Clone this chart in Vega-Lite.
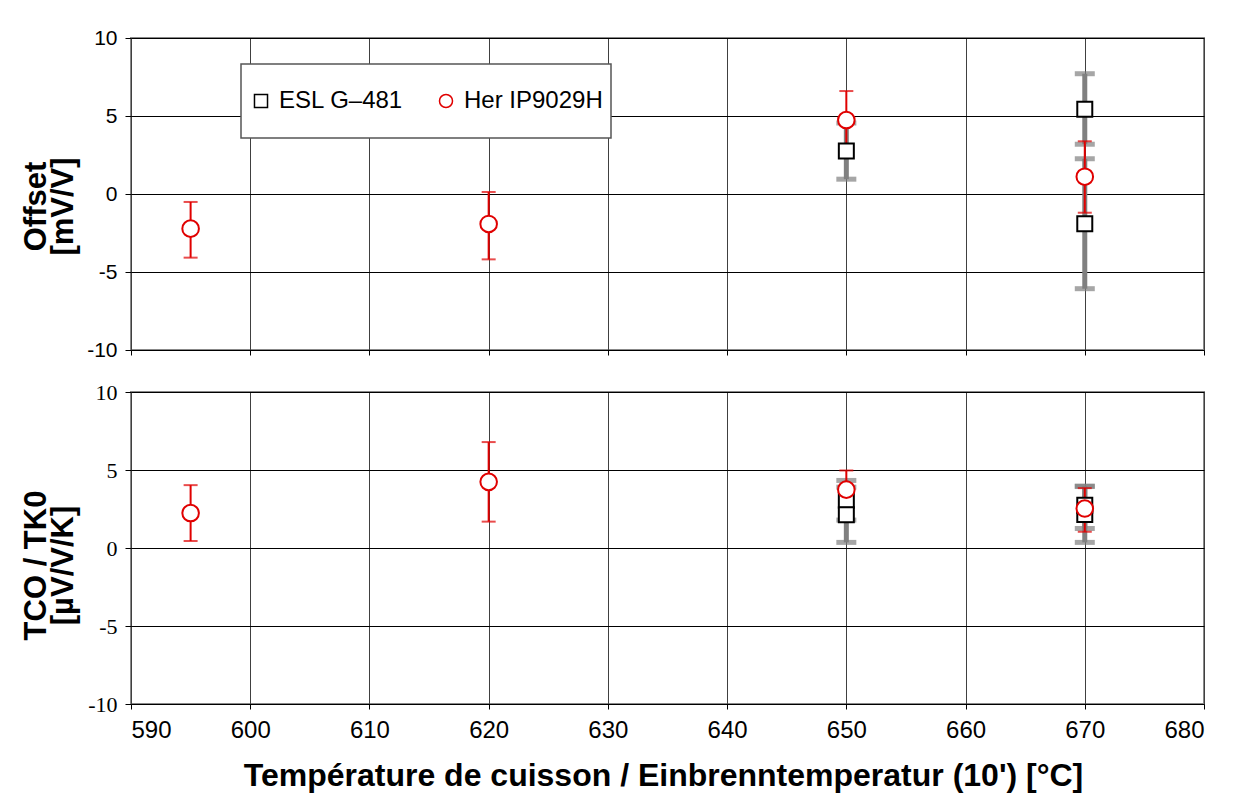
{
  "$schema": "https://vega.github.io/schema/vega-lite/v6.json",
  "background": "white",
  "padding": {"left": 19, "top": 26, "right": 5, "bottom": 5},
  "spacing": 19,
  "datasets": {
    "offset": [
      {"series": "ESL G–481", "temp": 650, "value": 2.75, "lo": 0.95, "hi": 4.55},
      {"series": "ESL G–481", "temp": 670, "value": 5.43, "lo": 3.19, "hi": 7.71},
      {"series": "ESL G–481", "temp": 670, "value": -1.9, "lo": -6.07, "hi": 2.26},
      {"series": "Her IP9029H", "temp": 595, "value": -2.22, "lo": -4.08, "hi": -0.51},
      {"series": "Her IP9029H", "temp": 620, "value": -1.92, "lo": -4.19, "hi": 0.13},
      {"series": "Her IP9029H", "temp": 650, "value": 4.74, "lo": 2.87, "hi": 6.6},
      {"series": "Her IP9029H", "temp": 670, "value": 1.11, "lo": -1.2, "hi": 3.38}
    ],
    "tco": [
      {"series": "ESL G–481", "temp": 650, "value": 3.06, "lo": 1.79, "hi": 4.33},
      {"series": "ESL G–481", "temp": 650, "value": 2.13, "lo": 0.36, "hi": 3.9},
      {"series": "ESL G–481", "temp": 670, "value": 2.74, "lo": 1.25, "hi": 3.97},
      {"series": "ESL G–481", "temp": 670, "value": 2.15, "lo": 0.36, "hi": 3.94},
      {"series": "Her IP9029H", "temp": 595, "value": 2.24, "lo": 0.45, "hi": 4.03},
      {"series": "Her IP9029H", "temp": 620, "value": 4.24, "lo": 1.69, "hi": 6.79},
      {"series": "Her IP9029H", "temp": 650, "value": 3.74, "lo": 2.51, "hi": 4.97},
      {"series": "Her IP9029H", "temp": 670, "value": 2.53, "lo": 1.04, "hi": 3.84}
    ]
  },
  "config": {
    "view": {"stroke": "#888888", "strokeWidth": 2},
    "axis": {
      "domain": false,
      "gridColor": "#000000",
      "gridOpacity": 1,
      "gridWidth": 1,
      "tickColor": "#000000",
      "tickWidth": 1,
      "labelColor": "#000000",
      "titleColor": "#000000",
      "labelFont": "Liberation Sans",
      "titleFont": "Liberation Sans",
      "titleFontWeight": "bold"
    },
    "legend": {"strokeWidth": 1.5}
  },
  "resolve": {
    "scale": {"shape": "independent", "stroke": "independent"},
    "legend": {"shape": "independent", "stroke": "independent"}
  },
  "vconcat": [
    {
      "width": 1073,
      "height": 312,
      "data": {"name": "offset"},
      "encoding": {
        "x": {
          "field": "temp", "type": "quantitative",
          "scale": {"domain": [590, 680], "nice": false, "zero": false},
          "axis": {"values": [590, 600, 610, 620, 630, 640, 650, 660, 670, 680], "labels": false, "title": null, "tickSize": 5, "gridColor": "#404040"}
        }
      },
      "layer": [
        {
          "transform": [{"filter": "datum.series === 'ESL G–481'"}],
          "mark": {"type": "errorbar", "ticks": true, "size": 20, "thickness": 5, "color": "#808080"},
          "encoding": {
            "y": {"field": "lo", "type": "quantitative", "scale": {"domain": [-10, 10], "nice": false}, "title": ["Offset", "[mV/V]"]},
            "y2": {"field": "hi"}
          }
        },
        {
          "transform": [{"filter": "datum.series === 'Her IP9029H'"}],
          "mark": {"type": "errorbar", "ticks": true, "size": 14, "thickness": 2, "color": "#e00000"},
          "encoding": {
            "y": {"field": "lo", "type": "quantitative", "title": ["Offset", "[mV/V]"]},
            "y2": {"field": "hi"}
          }
        },
        {
          "transform": [{"filter": "datum.series === 'ESL G–481'"}],
          "mark": {"type": "point", "filled": true, "fill": "white", "strokeWidth": 2, "size": 225, "opacity": 1},
          "encoding": {
            "y": {"field": "value", "type": "quantitative", "title": ["Offset", "[mV/V]"]},
            "shape": {"field": "series", "type": "nominal", "scale": {"domain": ["ESL G–481", "Her IP9029H"], "range": ["square", "circle"]}},
            "stroke": {"field": "series", "type": "nominal", "scale": {"domain": ["ESL G–481", "Her IP9029H"], "range": ["#000000", "#e00000"]}}
          }
        },
        {
          "transform": [{"filter": "datum.series === 'Her IP9029H'"}],
          "mark": {"type": "point", "filled": true, "fill": "white", "strokeWidth": 2, "size": 275, "opacity": 1},
          "encoding": {
            "y": {
              "field": "value", "type": "quantitative",
              "axis": {
                "values": [-10, -5, 0, 5, 10], "labelExpr": "'' + datum.value", "labelFontSize": 21, "labelPadding": 8, "tickSize": 6,
                "titleFontSize": 31, "titleLineHeight": 27, "titleAngle": -90, "titleX": -86, "titleY": 168, "titleBaseline": "alphabetic", "titleAlign": "center"
              },
              "title": ["Offset", "[mV/V]"]
            },
            "shape": {
              "field": "series", "type": "nominal",
              "scale": {"domain": ["ESL G–481", "Her IP9029H"], "range": ["square", "circle"]},
              "legend": {
                "orient": "none", "legendX": 110, "legendY": 26, "direction": "horizontal", "title": null,
                "fillColor": "white", "strokeColor": "#555555", "padding": 8,
                "labelFont": "Liberation Sans", "labelFontSize": 24, "labelColor": "#000000", "labelOffset": 6,
                "symbolSize": 170, "symbolStrokeWidth": 1.5, "symbolFillColor": "white", "columnPadding": 30, "clipHeight": 58
              }
            },
            "stroke": {
              "field": "series", "type": "nominal",
              "scale": {"domain": ["ESL G–481", "Her IP9029H"], "range": ["#000000", "#e00000"]},
              "legend": {
                "orient": "none", "legendX": 110, "legendY": 26, "direction": "horizontal", "title": null,
                "fillColor": "white", "strokeColor": "#555555", "padding": 8,
                "labelFont": "Liberation Sans", "labelFontSize": 24, "labelColor": "#000000", "labelOffset": 6,
                "symbolSize": 170, "symbolStrokeWidth": 1.5, "symbolFillColor": "white", "columnPadding": 30, "clipHeight": 58
              }
            }
          }
        }
      ]
    },
    {
      "width": 1073,
      "height": 312,
      "data": {"name": "tco"},
      "encoding": {
        "x": {
          "field": "temp", "type": "quantitative",
          "scale": {"domain": [590, 680], "nice": false, "zero": false},
          "axis": {
            "values": [590, 600, 610, 620, 630, 640, 650, 660, 670, 680], "tickSize": 5, "gridColor": "#404040",
            "labelFontSize": 24, "labelPadding": 9,
            "titleFontSize": 32, "titleX": 532, "titleY": 81, "titleBaseline": "alphabetic", "titleAlign": "center"
          },
          "title": "Température de cuisson / Einbrenntemperatur (10') [°C]"
        }
      },
      "layer": [
        {
          "transform": [{"filter": "datum.series === 'ESL G–481'"}],
          "mark": {"type": "errorbar", "ticks": true, "size": 20, "thickness": 5, "color": "#808080"},
          "encoding": {
            "y": {"field": "lo", "type": "quantitative", "scale": {"domain": [-10, 10], "nice": false}, "title": ["TCO / TK0", "[µV/V/K]"]},
            "y2": {"field": "hi"}
          }
        },
        {
          "transform": [{"filter": "datum.series === 'Her IP9029H'"}],
          "mark": {"type": "errorbar", "ticks": true, "size": 14, "thickness": 2, "color": "#e00000"},
          "encoding": {
            "y": {"field": "lo", "type": "quantitative", "title": ["TCO / TK0", "[µV/V/K]"]},
            "y2": {"field": "hi"}
          }
        },
        {
          "transform": [{"filter": "datum.series === 'ESL G–481'"}],
          "mark": {"type": "point", "shape": "square", "filled": true, "fill": "white", "stroke": "#000000", "strokeWidth": 2, "size": 225, "opacity": 1},
          "encoding": {
            "y": {"field": "value", "type": "quantitative", "title": ["TCO / TK0", "[µV/V/K]"]}
          }
        },
        {
          "transform": [{"filter": "datum.series === 'Her IP9029H'"}],
          "mark": {"type": "point", "shape": "circle", "filled": true, "fill": "white", "stroke": "#e00000", "strokeWidth": 2, "size": 275, "opacity": 1},
          "encoding": {
            "y": {
              "field": "value", "type": "quantitative",
              "axis": {
                "values": [-10, -5, 0, 5, 10], "labelExpr": "'' + datum.value", "labelFont": "Liberation Serif", "labelFontSize": 22, "labelPadding": 8, "tickSize": 6,
                "titleFontSize": 31, "titleLineHeight": 27, "titleAngle": -90, "titleX": -86, "titleY": 173, "titleBaseline": "alphabetic", "titleAlign": "center"
              },
              "title": ["TCO / TK0", "[µV/V/K]"]
            }
          }
        }
      ]
    }
  ]
}
